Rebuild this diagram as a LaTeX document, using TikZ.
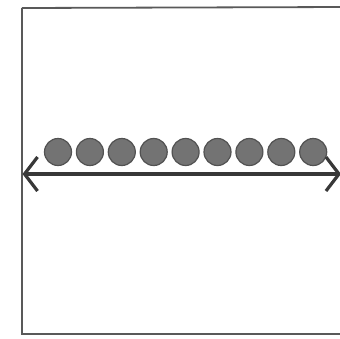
\documentclass[tikz,border=0pt]{standalone}
\usetikzlibrary{arrows.meta}
\definecolor{frame}{gray}{0.35}
\definecolor{dotfill}{gray}{0.45}
\definecolor{dotedge}{gray}{0.32}
\definecolor{arrowc}{gray}{0.22}
\begin{document}
\begin{tikzpicture}[x=1pt,y=-1pt,
  framestyle/.style={draw=frame,line width=1.8pt},
  bead/.style={circle,fill=dotfill,draw=dotedge,line width=1.2pt,minimum size=27pt,inner sep=0pt},
  ruler/.style={draw=arrowc,line width=3.2pt,{Straight Barb[length=13pt,width=34pt]}-{Straight Barb[length=13pt,width=34pt]}}]
\useasboundingbox (0,0) rectangle (340,338);
\fill[white] (0,0) rectangle (340,338);
\draw[framestyle] (22,8) -- (22,334) -- (345,334);
\draw[framestyle] (22,8) -- (345,7);
\foreach \i in {0,...,8}{
  \node[bead] (d\i) at ({58+\i*31.9},152) {};
}
\coordinate (L) at (22.5,174);
\coordinate (R) at (341,174);
\draw[ruler] (L) -- (R);
\end{tikzpicture}
\end{document}
